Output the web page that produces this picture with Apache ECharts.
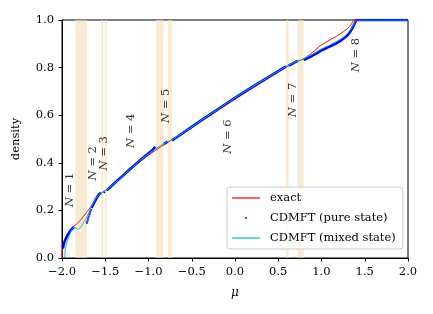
<!DOCTYPE html>
<html>
<head>
<meta charset="utf-8">
<script src="https://cdn.jsdelivr.net/npm/echarts@6/dist/echarts.min.js"></script>
<style>html,body{margin:0;padding:0;background:#fff}#c{width:433px;height:314px}</style>
</head>
<body>
<div id="c"></div>
<script>
// ---- data ----
var xTicks = [-2.0, -1.5, -1.0, -0.5, 0.0, 0.5, 1.0, 1.5, 2.0];
var yTicks = [0.0, 0.2, 0.4, 0.6, 0.8, 1.0];

var exactMu = [-2.0,-1.995,-1.98,-1.96,-1.93,-1.9,-1.873,-1.82,-1.777,-1.73,-1.68,-1.64,-1.603,-1.564,-1.53,-1.5,-1.4,-1.3,-1.2,-1.1,-1.0,-0.9,-0.8,-0.7,-0.6,-0.4,-0.2,0.0,0.2,0.4,0.6,0.7,0.794,0.9,0.983,1.1,1.176,1.25,1.31,1.34,1.36,1.37,2.0];
var exactN  = [0.0,0.03,0.06,0.085,0.104,0.118,0.129,0.147,0.163,0.185,0.209,0.226,0.244,0.267,0.276,0.283,0.309,0.341,0.373,0.404,0.432,0.457,0.481,0.503,0.525,0.572,0.619,0.667,0.713,0.758,0.803,0.822,0.837,0.865,0.891,0.917,0.932,0.95,0.967,0.98,0.992,1.0,1.0];

// pure-state CDMFT: dense segments (null = gap) and a few sparse dots
var pureMu = [-1.99,-1.975,-1.95,-1.92,-1.89,-1.86,null,-1.66,-1.63,-1.6,-1.58,-1.56,-1.55,null,-1.52,-1.505,null,-1.485,-1.4,-1.3,-1.2,-1.1,-1.0,-0.95,-0.92,null,-0.824,-0.78,null,-0.728,-0.6,-0.4,-0.2,0.0,0.2,0.4,0.59,null,0.621,0.68,0.725,null,0.794,0.9,1.0,1.1,1.2,1.28,1.33,1.37,1.39,1.405,2.0];
var pureN  = [0.04,0.065,0.085,0.105,0.12,0.13,null,0.21,0.232,0.252,0.264,0.271,0.273,null,0.276,0.279,null,0.284,0.312,0.345,0.378,0.41,0.44,0.455,0.467,null,0.479,0.489,null,0.494,0.526,0.576,0.625,0.673,0.719,0.763,0.805,null,0.808,0.82,0.828,null,0.832,0.851,0.873,0.889,0.908,0.929,0.95,0.975,0.99,1.0,1.0];
var pureDotMu = [-1.712,-1.705,-1.698,-1.69,-1.682,-1.674,-1.666];
var pureDotN  = [0.148,0.157,0.166,0.175,0.184,0.193,0.202];

var mixedMu = [-1.97,-1.96,-1.945,-1.93,-1.91,-1.89,-1.87,-1.85,-1.83,-1.815,-1.795,-1.777,-1.75,-1.72,-1.69,-1.66,-1.63,-1.6,-1.56,-1.5,-1.4,-1.3,-1.2,-1.1,-1.0,-0.9,-0.8,-0.7,-0.6,-0.4,-0.2,0.0,0.2,0.4,0.6,0.7,0.8,0.9,1.0,1.1,1.2,1.28,1.33,1.37,1.39,1.4,2.0];
var mixedN  = [0.0,0.04,0.065,0.08,0.1,0.118,0.127,0.129,0.124,0.121,0.125,0.133,0.15,0.167,0.192,0.216,0.236,0.253,0.271,0.282,0.311,0.344,0.377,0.409,0.438,0.463,0.485,0.503,0.526,0.576,0.625,0.673,0.719,0.763,0.806,0.824,0.838,0.857,0.878,0.896,0.915,0.936,0.956,0.978,0.993,1.0,1.0];

var bandStart = [-1.846,-1.546,-1.503,-0.913,-0.778,0.590,0.725];
var bandEnd   = [-1.711,-1.523,-1.483,-0.824,-0.728,0.621,0.794];

var nLabels = ['1','2','3','4','5','6','7','8'];
var nLabelMu = [-1.91,-1.638,-1.514,-1.2,-0.80,-0.077,0.667,1.399];
var nLabelN  = [0.286,0.398,0.44,0.534,0.639,0.51,0.664,0.853];

// ---- build ----
function zip(a,b){var r=[];for(var i=0;i<a.length;i++){r.push(a[i]===null?[null,null]:[a[i],b[i]]);}return r;}
var FONT = 'DejaVu Serif';
var bands = [];
for (var i=0;i<bandStart.length;i++) bands.push([{xAxis:bandStart[i]},{xAxis:bandEnd[i]}]);
var labelData = [];
for (var j=0;j<nLabels.length;j++) labelData.push({value:[nLabelMu[j],nLabelN[j]], name:nLabels[j]});
function fmt(v){var s=Math.abs(v).toFixed(1);return (v<-1e-9?'\u2212':'')+s;}

var chart = echarts.init(document.getElementById('c'), null, {renderer:'canvas'});
chart.setOption({
  animation:false,
  grid:{left:62,right:25,top:20,bottom:56,show:true,borderColor:'#000',borderWidth:1,backgroundColor:'transparent'},
  xAxis:{type:'value',min:-2,max:2,interval:0.5,
    name:'\u03bc',nameLocation:'middle',nameGap:29,
    nameTextStyle:{fontFamily:FONT,fontSize:12,fontStyle:'italic',color:'#000'},
    axisLine:{show:true,onZero:false,lineStyle:{color:'#000',width:1}},
    axisTick:{show:true,length:3.5,lineStyle:{color:'#000',width:1}},
    axisLabel:{margin:8,fontFamily:FONT,fontSize:11.5,color:'#000',formatter:fmt},
    splitLine:{show:false}},
  yAxis:{type:'value',min:0,max:1,interval:0.2,
    name:'density',nameLocation:'middle',nameGap:40,
    nameTextStyle:{fontFamily:FONT,fontSize:11.5,color:'#000'},
    axisLine:{show:true,onZero:false,lineStyle:{color:'#000',width:1}},
    axisTick:{show:true,length:3.5,lineStyle:{color:'#000',width:1}},
    axisLabel:{margin:8,fontFamily:FONT,fontSize:11.5,color:'#000',formatter:fmt},
    splitLine:{show:false}},
  legend:{left:227,top:187,orient:'vertical',
    padding:[4,7,4,5],itemGap:6,itemWidth:28,itemHeight:2,
    backgroundColor:'rgba(255,255,255,0.85)',borderColor:'#cccccc',borderWidth:1,borderRadius:3,
    textStyle:{fontFamily:FONT,fontSize:11.5,color:'#000',lineHeight:14,padding:[0,0,0,5]},
    data:[
      {name:'exact',icon:'path://M0,0H28V1.2H0Z',itemStyle:{color:'#ff0000',borderWidth:0}},
      {name:'CDMFT (pure state)',icon:'circle',itemStyle:{color:'#0000ff',borderWidth:0}},
      {name:'CDMFT (mixed state)',icon:'path://M0,0H28V1.2H0Z',itemStyle:{color:'#00bfbf',borderWidth:0}}
    ]},
  series:[
    {type:'line',name:'bands',data:[],z:1,silent:true,
      markArea:{silent:true,itemStyle:{color:'rgba(245,222,179,0.6)'},data:bands}},
    {type:'line',name:'exact',data:zip(exactMu,exactN),showSymbol:false,symbol:'none',smooth:0.2,z:3,
      lineStyle:{color:'#ff0000',width:1},itemStyle:{color:'#ff0000'}},
    {type:'line',name:'CDMFT (pure state)',data:zip(pureMu,pureN),showSymbol:false,symbol:'none',smooth:0.2,connectNulls:false,z:4,
      lineStyle:{color:'#0000ff',width:2.6},itemStyle:{color:'#0000ff'}},
    {type:'scatter',name:'CDMFT (pure state)',data:zip(pureDotMu,pureDotN),symbolSize:2.4,z:4,
      itemStyle:{color:'#0000ff'}},
    {type:'line',name:'CDMFT (mixed state)',data:zip(mixedMu,mixedN),showSymbol:false,symbol:'none',smooth:0.2,z:5,
      lineStyle:{color:'#00bfbf',width:1},itemStyle:{color:'#00bfbf'}},
    {type:'scatter',name:'labels',data:labelData,symbolSize:1,z:6,silent:true,
      itemStyle:{color:'rgba(0,0,0,0)'},
      label:{show:true,position:'inside',rotate:90,color:'#000',fontFamily:FONT,fontSize:11.5,
        formatter:function(p){return '{i|N} = '+p.name;},
        rich:{i:{fontFamily:FONT,fontStyle:'italic',fontSize:11.5,color:'#000'}}}}
  ]
});
</script>
</body>
</html>
